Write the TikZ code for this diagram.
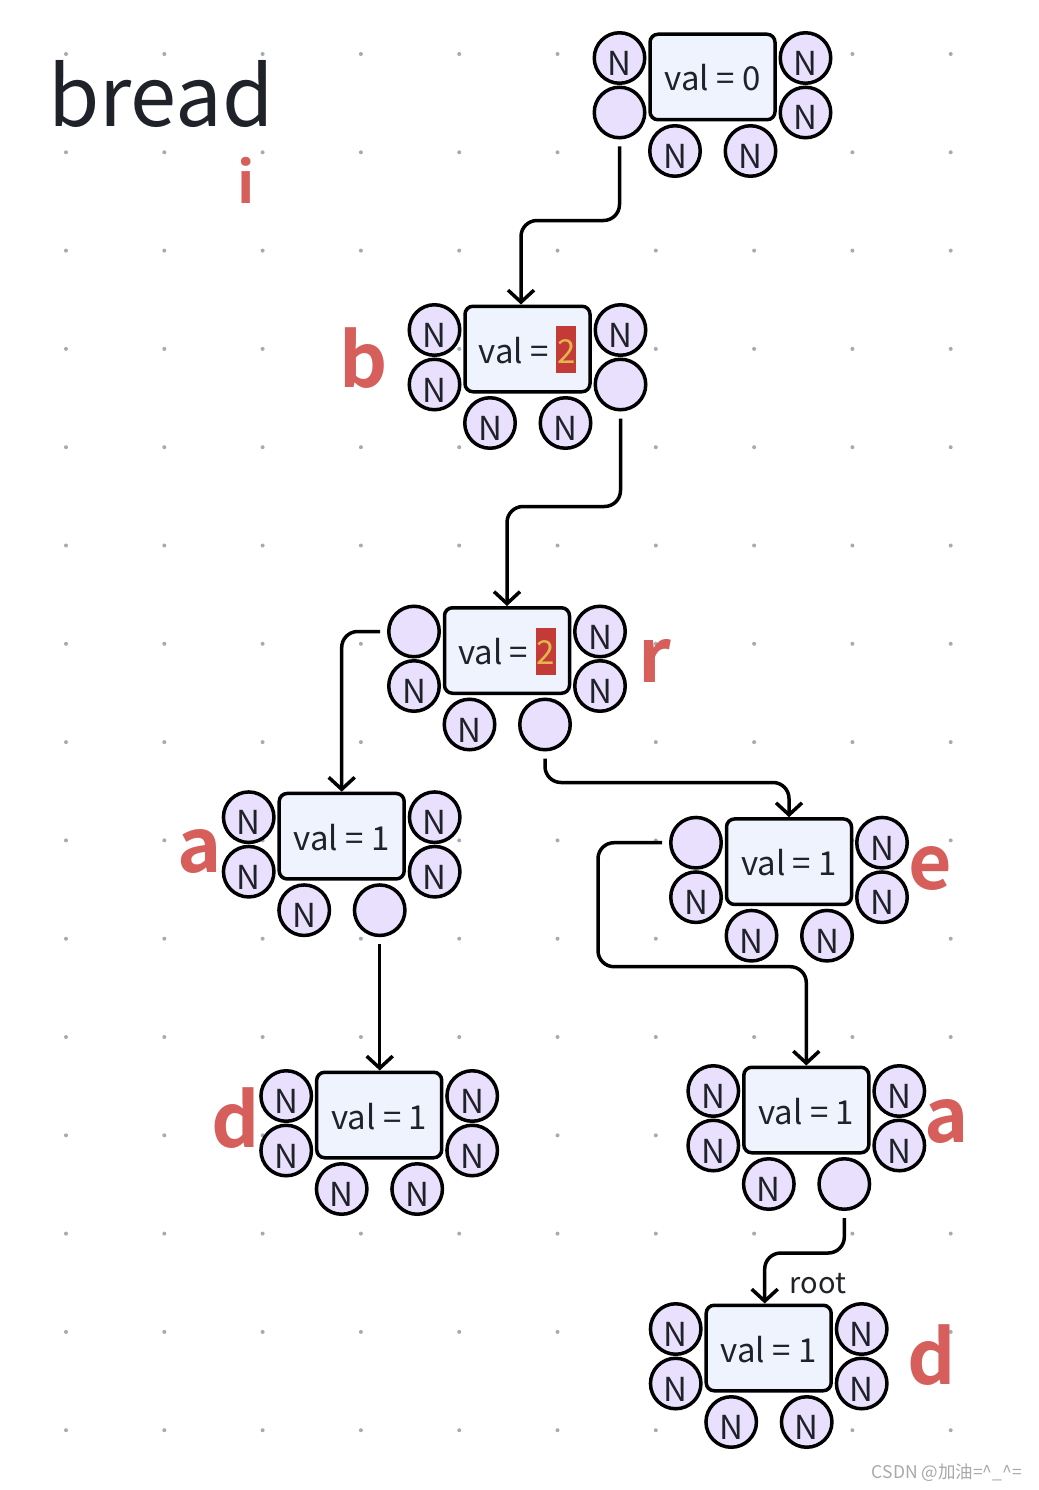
\documentclass[tikz,border=0pt]{standalone}
\usepackage{fontspec}
\newfontfamily\cjk{Noto Sans CJK SC}[BoldFont={Noto Sans CJK SC Bold}]
\usetikzlibrary{arrows.meta,calc}
\definecolor{dotc}{HTML}{A6AAB5}
\definecolor{rectfill}{HTML}{EFF3FD}
\definecolor{circfill}{HTML}{E8E0FD}
\definecolor{txt}{HTML}{1F2329}
\definecolor{lbl}{HTML}{D65F5C}
\definecolor{hlred}{HTML}{C43A37}
\definecolor{hlyel}{HTML}{E3B64C}
\definecolor{wm}{HTML}{A9A9A9}
\newcommand\hlnum[1]{{\setlength{\fboxsep}{0pt}\colorbox{hlred}{\rule[-10pt]{0pt}{47pt}\kern1pt\textcolor{hlyel}{#1}\kern1pt}}}
\newcommand\tnode[9]{%
  \node[valbox] (#1) at #2 {\smash{\raisebox{-14pt}{#3}}};
  \node[ncirc] (#1-lt) at ($(#1)+(-93,-19)$) {\smash{\raisebox{-17.5pt}{#4}}};
  \node[ncirc] (#1-lb) at ($(#1)+(-93,35.5)$) {\smash{\raisebox{-17.5pt}{#5}}};
  \node[ncirc] (#1-rt) at ($(#1)+(93,-19)$) {\smash{\raisebox{-17.5pt}{#6}}};
  \node[ncirc] (#1-rb) at ($(#1)+(93,35.5)$) {\smash{\raisebox{-17.5pt}{#7}}};
  \node[ncirc] (#1-bl) at ($(#1)+(-37.5,74)$) {\smash{\raisebox{-17.5pt}{#8}}};
  \node[ncirc] (#1-br) at ($(#1)+(38,74)$) {\smash{\raisebox{-17.5pt}{#9}}};
}
\tikzset{
  valbox/.style={draw=black, line width=3.5pt, fill=rectfill, rounded corners=8pt,
    minimum width=125pt, minimum height=85.5pt, inner sep=0pt,
    font=\cjk\fontsize{33}{40}\selectfont, text=txt},
  ncirc/.style={circle, draw=black, line width=3.5pt, fill=circfill, minimum size=50.5pt,
    inner sep=0pt, font=\cjk\fontsize{33}{40}\selectfont, text=txt},
  conn/.style={draw=black, line width=3.5pt, rounded corners=16pt,
    -{Straight Barb[length=12pt,width=26pt]}},
  redlbl/.style={text=lbl, font=\cjk\bfseries\fontsize{75}{90}\selectfont,
    anchor=base, inner sep=0pt},
}
\begin{document}
\begin{tikzpicture}[x=1pt,y=-1pt]
\fill[white] (0,0) rectangle (1038,1490);
\useasboundingbox (0,0) rectangle (1038,1490);
% dot grid
\foreach \i in {0,...,9}{
  \foreach \j in {0,...,14}{
    \fill[dotc] ({66+98.3*\i},{54+98.3*\j}) circle (2);
  }
}
% title
\node[anchor=base, inner sep=0pt, text=txt, font=\cjk\fontsize{83}{100}\selectfont] (title) at (161,127) {bread};
% nodes
\tnode{top}{(712.5,77)}{val = 0}{N}{}{N}{N}{N}{N}
\tnode{b}{(527.5,349)}{val = \hlnum{2}}{N}{N}{N}{}{N}{N}
\tnode{r}{(507,650.5)}{val = \hlnum{2}}{}{N}{N}{N}{N}{}
\tnode{a1}{(341.7,836.2)}{val = 1}{N}{N}{N}{N}{N}{}
\tnode{d1}{(379.2,1115)}{val = 1}{N}{N}{N}{N}{N}{N}
\tnode{e}{(789,861.7)}{val = 1}{}{N}{N}{N}{N}{N}
\tnode{a2}{(806.3,1110)}{val = 1}{N}{N}{N}{N}{N}{}
\tnode{d2}{(768.7,1348)}{val = 1}{N}{N}{N}{N}{N}{N}
% connectors
\draw[conn] ([yshift=-7pt]top-lb.south) -- ++(0,74) -| ([xshift=-6.5pt]b.north);
\draw[conn] ([yshift=-7pt]b-rb.south) -- ++(0,88) -| (r.north);
\draw[conn] ([xshift=-7pt]r-lt.west) -| (a1.north);
\draw[conn] ([yshift=-7pt]r-br.south) -- ++(0,24) -| (e.north);
\draw[conn] ([xshift=-7pt]e-lt.west) -- ++(-64,0) -- ++(0,124) -| (a2.north);
\draw[conn] ([yshift=-7pt]a1-br.south) -- (a1-br.south |- d1.north);
\draw[conn] ([yshift=-7pt]a2-br.south) -- ++(0,35) -| ([xshift=-4pt]d2.north);
\node[anchor=base west, inner sep=0pt, text=txt, font=\cjk\fontsize{29}{34}\selectfont] (rootlbl) at ($(d2.north)+(21,-10)$) {root};
% red labels
\node[redlbl, font=\cjk\bfseries\fontsize{57}{68}\selectfont] (li) at (246,204) {i};
\node[redlbl] (lb) at (364,387) {b};
\node[redlbl] (lr) at (655,682) {r};
\node[redlbl] (la1) at (200,872) {a};
\node[redlbl] (le) at (930,889) {e};
\node[redlbl] (ld1) at (236,1147) {d};
\node[redlbl] (la2) at (947,1142) {a};
\node[redlbl] (ld2) at (932,1384) {d};
% watermark
\node[anchor=base east, inner sep=0pt, text=wm, font=\cjk\fontsize{17.5}{21}\selectfont] (wmk) at (1022,1478) {CSDN @加油=\textasciicircum\_\textasciicircum=};
\end{tikzpicture}
\end{document}
